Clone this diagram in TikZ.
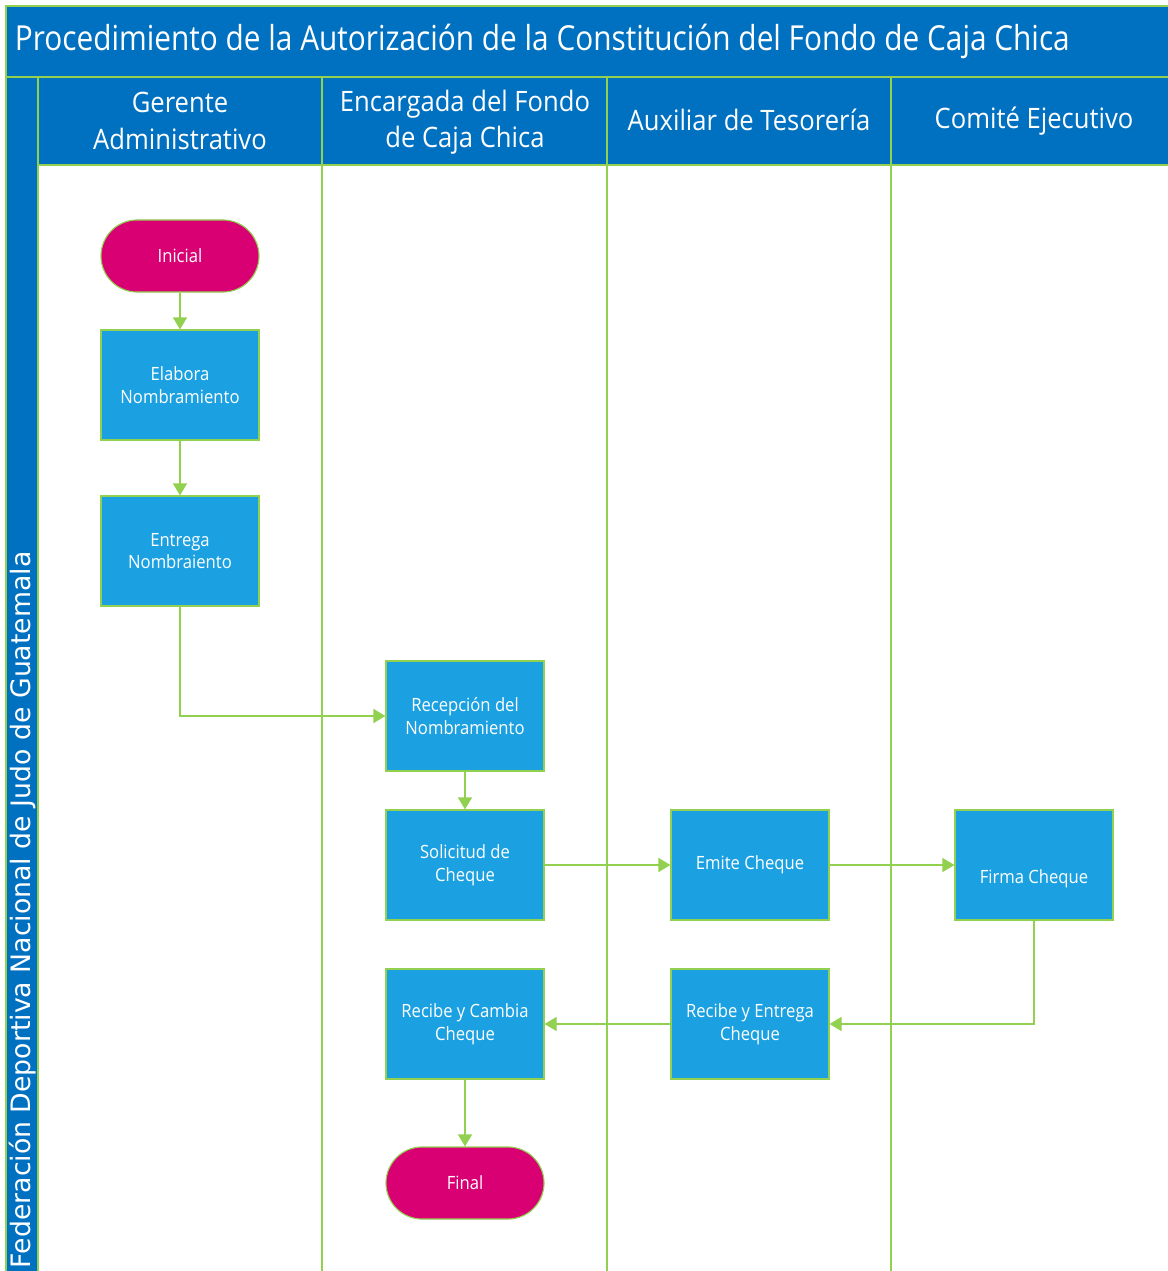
\documentclass[tikz,border=0pt]{standalone}
\usepackage{fontspec}
\setmainfont{Open Sans}[FakeStretch=0.91]
\newfontfamily\titlefont{Open Sans}[FakeStretch=0.865]
\newfontfamily\sidefont{DejaVu Sans}
\usetikzlibrary{arrows.meta, positioning, calc}

\definecolor{laneblue}{HTML}{0070C0}
\definecolor{boxblue}{HTML}{1BA1E2}
\definecolor{termpink}{HTML}{D80073}
\definecolor{linegreen}{HTML}{92D050}

\begin{document}
\begin{tikzpicture}[x=0.025cm, y=-0.025cm,
    band/.style={draw=linegreen, fill=laneblue, line width=0.9pt},
    process/.style={rectangle, draw=linegreen, fill=boxblue, line width=0.8pt,
        minimum width=3.95cm, minimum height=2.75cm, align=center, text=white,
        font=\fontsize{13}{16}\selectfont},
    terminal/.style={rectangle, rounded corners=0.9cm, draw=linegreen, fill=termpink,
        line width=0.8pt, minimum width=3.95cm, minimum height=1.8cm, text=white,
        font=\fontsize{13}{16}\selectfont},
    lanehead/.style={text=white, align=center, font=\fontsize{20}{26}\selectfont},
    flow/.style={draw=linegreen, line width=1pt, -{Triangle[length=0.3cm, width=0.35cm]}}]

    % Define page and frame
    \fill[white] (0,0) rectangle (1167,1271);
    \useasboundingbox (0,0) rectangle (1167,1271);

    % Title band
    \draw[band] (6,1290) -- (6,6) -- (1180,6) -- (1180,77) -- (6,77);
    \fill[laneblue] (6.5,6.5) rectangle (1180,76.5);
    \node[anchor=west, text=white, font=\titlefont\fontsize{24.5}{28}\selectfont] (title) at (10,41)
        {Procedimiento de la Autorización de la Constitución del Fondo de Caja Chica};

    % Side band
    \draw[band] (6,77) rectangle (38,1290);
    \node[rotate=90, anchor=base west, text=white, font=\sidefont\fontsize{19}{22}\selectfont] (org) at (30,1273)
        {Federación Deportiva Nacional de Judo de Guatemala};

    % Lane headers
    \draw[band] (38,77) rectangle (322,165);
    \draw[band] (322,77) rectangle (607,165);
    \draw[band] (607,77) rectangle (891,165);
    \draw[band] (891,77) rectangle (1180,165);
    \node[lanehead] (lane1) at (180,121) {Gerente\\Administrativo};
    \node[lanehead] (lane2) at (465,122) {Encargada del Fondo\\de Caja Chica};
    \node[lanehead] (lane3) at (749,120) {Auxiliar de Tesorería};
    \node[lanehead] (lane4) at (1034,121) {Comité Ejecutivo};

    % Lane separators
    \foreach \x in {322,607,891} {
        \draw[linegreen, line width=0.9pt] (\x,165) -- (\x,1290);
    }

    % Steps
    \node[terminal] (inicio) at (180,256) {Inicial};
    \node[process] (elabora) at (180,385) {Elabora\\Nombramiento};
    \node[process] (entrega) at (180,551) {Entrega\\Nombraiento};
    \node[process] (recepcion) at (465,716) {Recepción del\\Nombramiento};
    \node[process] (solicitud) at (465,865) {Solicitud de\\Cheque};
    \node[process] (emite) at (750,865) {Emite Cheque};
    \node[process] (firma) at (1034,865) {\raisebox{-0.45cm}[0pt][0pt]{Firma Cheque}};
    \node[process] (recibeentrega) at (750,1024) {Recibe y Entrega\\Cheque};
    \node[process] (recibecambia) at (465,1024) {Recibe y Cambia\\Cheque};
    \node[terminal] (final) at (465,1183) {Final};

    % Connectors
    \draw[flow] (inicio) -- (elabora);
    \draw[flow] (elabora) -- (entrega);
    \draw[flow] (entrega.south) |- (recepcion.west);
    \draw[flow] (recepcion) -- (solicitud);
    \draw[flow] (solicitud) -- (emite);
    \draw[flow] (emite) -- (firma);
    \draw[flow] (firma.south) |- (recibeentrega.east);
    \draw[flow] (recibeentrega) -- (recibecambia);
    \draw[flow] (recibecambia) -- (final);

\end{tikzpicture}
\end{document}
